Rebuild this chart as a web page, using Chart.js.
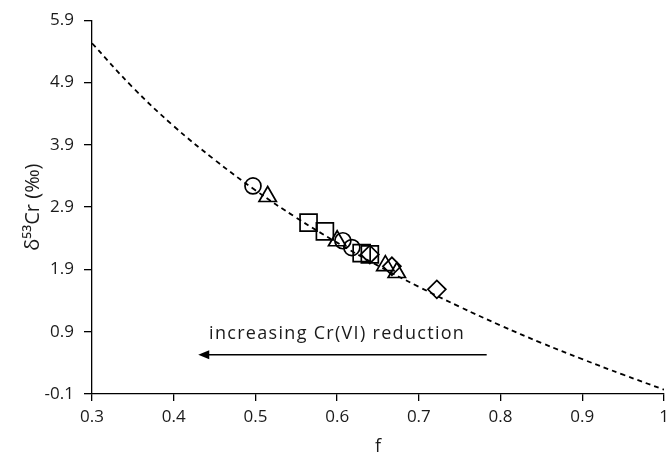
<!DOCTYPE html>
<html>
<head>
<meta charset="UTF-8" />
<script src="https://cdn.jsdelivr.net/npm/chart.js"></script>
<title>d53Cr vs f</title>
<style>
  body { margin:0; background:#fff; }
</style>
</head>
<body>
<canvas id="crChart" width="670" height="460"></canvas>
<script>
    // tick labels
    var xTicks = [0.3, 0.4, 0.5, 0.6, 0.7, 0.8, 0.9, 1];
    var yTicks = [-0.1, 0.9, 1.9, 2.9, 3.9, 4.9, 5.9];

    // dashed model curve
    var curveF = [0.3, 0.35, 0.4, 0.45, 0.5, 0.55, 0.6, 0.65, 0.7, 0.75, 0.8, 0.85, 0.9, 0.95, 1.0];
    var curveD = [5.53, 4.82, 4.20, 3.66, 3.17, 2.73, 2.33, 1.96, 1.62, 1.30, 1.00, 0.72, 0.46, 0.21, -0.03];

    // measured samples, grouped by marker
    var circleF = [0.497, 0.607, 0.618];
    var circleD = [3.24, 2.36, 2.25];
    var triangleF = [0.515, 0.600, 0.659, 0.673];
    var triangleD = [3.07, 2.36, 1.96, 1.85];
    var squareF = [0.565, 0.585, 0.630, 0.640];
    var squareD = [2.65, 2.51, 2.16, 2.14];
    var diamondF = [0.640, 0.667, 0.722];
    var diamondD = [2.14, 1.95, 1.58];

    var pts = function(xs, ys) {
        return xs.map(function(x, i) { return {x: x, y: ys[i]}; });
    };

    var FONT = "'Open Sans', sans-serif";
    var INK = '#1a1a1a';

    var markerSet = function(label, xs, ys, style, r) {
        return {
            type: 'scatter',
            label: label,
            data: pts(xs, ys),
            pointStyle: style,
            pointRadius: r,
            pointHoverRadius: r,
            pointBorderColor: '#000',
            pointBackgroundColor: 'rgba(0,0,0,0)',
            pointBorderWidth: 1.7,
            showLine: false
        };
    };

    // arrow + text annotation
    var annotate = {
        id: 'annotate',
        afterDatasetsDraw: function(chart) {
            var ctx = chart.ctx, sx = chart.scales.x, sy = chart.scales.y;
            ctx.save();
            ctx.fillStyle = INK;
            ctx.font = "18px " + FONT;
            ctx.letterSpacing = '1.3px';
            ctx.textAlign = 'center';
            ctx.textBaseline = 'middle';
            ctx.fillText('increasing Cr(VI) reduction', sx.getPixelForValue(0.6), sy.getPixelForValue(0.86));

            var x1 = sx.getPixelForValue(0.783), x0 = sx.getPixelForValue(0.43);
            var ay = sy.getPixelForValue(0.53);
            ctx.strokeStyle = '#000';
            ctx.fillStyle = '#000';
            ctx.lineWidth = 1.4;
            ctx.beginPath();
            ctx.moveTo(x1, ay);
            ctx.lineTo(x0 + 8, ay);
            ctx.stroke();
            ctx.beginPath();
            ctx.moveTo(x0, ay);
            ctx.lineTo(x0 + 11, ay - 4.5);
            ctx.lineTo(x0 + 11, ay + 4.5);
            ctx.closePath();
            ctx.fill();
            ctx.restore();
        }
    };

    var chart = new Chart(document.getElementById('crChart'), {
        type: 'scatter',
        data: {
            datasets: [
                {
                    type: 'line',
                    label: 'model',
                    data: pts(curveF, curveD),
                    borderColor: '#000',
                    borderWidth: 1.8,
                    borderDash: [5, 4],
                    pointRadius: 0,
                    tension: 0.4,
                    fill: false
                },
                markerSet('circle', circleF, circleD, 'circle', 8),
                markerSet('triangle', triangleF, triangleD, 'triangle', 10),
                markerSet('square', squareF, squareD, 'rect', 12),
                markerSet('diamond', diamondF, diamondD, 'rectRot', 9)
            ]
        },
        options: {
            responsive: false,
            animation: false,
            layout: { autoPadding: false, padding: { top: 14, right: 6, left: 4, bottom: 2 } },
            plugins: {
                legend: { display: false },
                tooltip: { enabled: false }
            },
            scales: {
                x: {
                    type: 'linear',
                    min: 0.3,
                    max: 1,
                    afterBuildTicks: function(s) { s.ticks = xTicks.map(function(v) { return {value: v}; }); },
                    afterFit: function(s) { s.paddingRight = 0; s.height = 64; },
                    ticks: {
                        color: INK,
                        font: { family: FONT, size: 17 },
                        padding: 6,
                        maxRotation: 0,
                        callback: function(v) { return String(+v.toFixed(1)); }
                    },
                    grid: { drawOnChartArea: false, drawTicks: true, tickLength: 7, color: '#000', lineWidth: 1.3 },
                    border: { display: true, color: '#000', width: 1.3 },
                    title: { display: true, text: 'f', color: INK, font: { family: FONT, size: 18 }, padding: { top: 4, bottom: 0 } }
                },
                y: {
                    type: 'linear',
                    min: -0.1,
                    max: 5.9,
                    afterBuildTicks: function(s) { s.ticks = yTicks.map(function(v) { return {value: v}; }); },
                    afterFit: function(s) { s.width = 88; },
                    ticks: {
                        color: INK,
                        font: { family: FONT, size: 17 },
                        padding: 10,
                        callback: function(v) { return (+v).toFixed(1); }
                    },
                    grid: { drawOnChartArea: false, drawTicks: true, tickLength: 8, color: '#000', lineWidth: 1.3 },
                    border: { display: true, color: '#000', width: 1.3 },
                    title: { display: true, text: 'δ⁵³Cr (‰)', color: INK, font: { family: FONT, size: 20 }, padding: { top: 17, bottom: 0 } }
                }
            }
        },
        plugins: [annotate]
    });
</script>
</body>
</html>
